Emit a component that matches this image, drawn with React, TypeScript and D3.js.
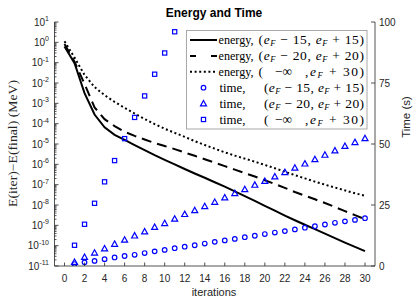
import React from 'react';
import * as d3 from 'd3';

// ---------- data ----------
const energyIterations = [0, 1, 2, 3, 4, 5, 6, 7, 8, 9, 10, 11, 12, 13, 14, 15, 16, 17, 18, 19, 20, 21, 22, 23, 24, 25, 26, 27, 28, 29, 30];
// log10 of E(iter)-E(final) (MeV)
const energy15Log = [-0.21, -1.03, -2.5, -3.55, -4.18, -4.55, -4.8, -5.05, -5.3, -5.55, -5.78, -6.0, -6.23, -6.45, -6.66, -6.88, -7.1, -7.33, -7.56, -7.8, -8.04, -8.28, -8.52, -8.75, -8.97, -9.19, -9.41, -9.63, -9.85, -10.06, -10.27];
const energy20Log = [-0.08, -0.95, -2.05, -3.2, -3.78, -4.12, -4.4, -4.6, -4.78, -4.95, -5.1, -5.25, -5.42, -5.58, -5.75, -5.92, -6.09, -6.26, -6.43, -6.6, -6.78, -6.97, -7.16, -7.36, -7.54, -7.72, -7.9, -8.1, -8.3, -8.5, -8.7];
const energyInfLog = [0.05, -0.75, -1.6, -2.2, -2.6, -2.93, -3.22, -3.5, -3.77, -4.02, -4.25, -4.45, -4.65, -4.86, -5.05, -5.23, -5.41, -5.57, -5.72, -5.87, -6.03, -6.19, -6.36, -6.53, -6.69, -6.85, -7.0, -7.14, -7.28, -7.42, -7.55];

const timeIterations = [1, 2, 3, 4, 5, 6, 7, 8, 9, 10, 11, 12, 13, 14, 15, 16, 17, 18, 19, 20, 21, 22, 23, 24, 25, 26, 27, 28, 29, 30];
const time15 = [0.8, 1.5, 2.1, 2.8, 3.5, 4.1, 4.6, 5.3, 6.0, 6.6, 7.3, 7.9, 8.5, 9.2, 9.9, 10.5, 11.1, 11.8, 12.4, 13.1, 13.7, 14.3, 15.0, 15.7, 16.3, 17.0, 17.7, 18.3, 18.9, 19.6];
const time20 = [1.6, 3.6, 5.4, 7.1, 9.0, 10.7, 12.4, 14.1, 15.9, 17.5, 19.3, 21.2, 22.8, 24.4, 26.2, 28.0, 29.8, 31.4, 33.2, 34.8, 36.6, 38.4, 40.2, 41.9, 43.7, 45.5, 47.3, 49.1, 50.7, 52.3];
const timeInfIterations = [1, 2, 3, 4, 5, 6, 7, 8, 9, 10, 11];
const timeInf = [8.5, 17.1, 25.7, 34.5, 43.2, 52.2, 60.9, 69.7, 78.6, 87.3, 96.0];

const xTicks = [0, 2, 4, 6, 8, 10, 12, 14, 16, 18, 20, 22, 24, 26, 28, 30];
const leftTickExps = [1, 0, -1, -2, -3, -4, -5, -6, -7, -8, -9, -10, -11];
const rightTicks = [0, 25, 50, 75, 100];

// ---------- layout ----------
const W = 415, H = 299;
const L = 54.5, R = 375, T = 22, B = 266;
const BLUE = '#0000ff';
const AX = '#262626';
const SANS = '"Liberation Sans", Arial, Helvetica, sans-serif';
const SERIF = '"Liberation Serif", "Times New Roman", serif';

const x = d3.scaleLinear().domain([-1, 31]).range([L, R]);
const yL = d3.scaleLog().domain([1e-11, 10]).range([B, T]);
const yR = d3.scaleLinear().domain([0, 100]).range([B, T]);

const lineGen = d3.line<[number, number]>().x(d => x(d[0])).y(d => yL(Math.pow(10, d[1])));

function tri(cx: number, cy: number, s = 3) {
  return `M${cx},${cy - s * 1.05}L${cx + s * 1.0},${cy + s * 0.75}L${cx - s * 1.0},${cy + s * 0.75}Z`;
}

const Circ = ({ cx, cy }: { cx: number; cy: number }) => (
  <circle cx={cx} cy={cy} r={2.3} fill="none" stroke={BLUE} strokeWidth={1.2} />
);
const Tri = ({ cx, cy }: { cx: number; cy: number }) => (
  <path d={tri(cx, cy)} fill="none" stroke={BLUE} strokeWidth={1.2} strokeLinejoin="miter" />
);
const Sq = ({ cx, cy }: { cx: number; cy: number }) => (
  <rect x={cx - 2.1} y={cy - 2.1} width={4.2} height={4.2} fill="none" stroke={BLUE} strokeWidth={1.2} />
);

const EF = ({ sign, n }: { sign: string; n: string }) => (
  <>
    <tspan fontStyle="italic">e</tspan>
    <tspan fontSize="8.5" fontStyle="italic" dy="2">F</tspan>
    <tspan dy="-2">{` ${sign} ${n}`}</tspan>
  </>
);

export default function App() {
  const minorTicks: number[] = [];
  for (let e = -11; e < 1; e++) {
    for (let m = 2; m <= 9; m++) minorTicks.push(m * Math.pow(10, e));
  }
  const pairs = (xs: number[], ys: number[]) => xs.map((v, i) => [v, ys[i]] as [number, number]);

  const legendRows = [40, 55.9, 71.8, 87.7, 103.6, 119.5];
  const lx0 = 190, lx1 = 217, lmx = 203.5;
  const textEnd = 364;
  const eStart = 258.5, tStart = 264;

  return (
    <svg width={W} height={H} style={{ position: 'absolute', left: 0, top: 0, background: '#fff' }} fontFamily={SANS}>
      <rect x={0} y={0} width={W} height={H} fill="#fff" />
      <defs>
        <clipPath id="plot">
          <rect x={L} y={T} width={R - L} height={B - T} />
        </clipPath>
      </defs>

      {/* energy lines */}
      <g clipPath="url(#plot)" fill="none" stroke="#000" strokeWidth={2}>
        <path d={lineGen(pairs(energyIterations, energy15Log)) || ''} />
        <path d={lineGen(pairs(energyIterations, energy20Log)) || ''} strokeDasharray="10,6" />
        <path d={lineGen(pairs(energyIterations, energyInfLog)) || ''} strokeDasharray="2,2.6" />
      </g>

      {/* time markers */}
      <g clipPath="url(#plot)">
        {timeIterations.map((it, i) => <Circ key={'c' + i} cx={x(it)} cy={yR(time15[i])} />)}
        {timeIterations.map((it, i) => <Tri key={'t' + i} cx={x(it)} cy={yR(time20[i])} />)}
        {timeInfIterations.map((it, i) => <Sq key={'s' + i} cx={x(it)} cy={yR(timeInf[i])} />)}
      </g>

      {/* axes */}
      <g stroke={AX} strokeWidth={0.8} fill="none">
        <line x1={L} y1={T} x2={L} y2={B} />
        <line x1={R} y1={T} x2={R} y2={B} />
        <line x1={L} y1={B} x2={R} y2={B} />
        {leftTickExps.map(e => (
          <line key={'lt' + e} x1={L} x2={L + 4} y1={yL(Math.pow(10, e))} y2={yL(Math.pow(10, e))} />
        ))}
        {minorTicks.map((v, i) => (
          <line key={'mt' + i} x1={L} x2={L + 2} y1={yL(v)} y2={yL(v)} />
        ))}
        {rightTicks.map(v => (
          <line key={'rt' + v} x1={R} x2={R - 4} y1={yR(v)} y2={yR(v)} />
        ))}
        {xTicks.map(v => (
          <line key={'xt' + v} x1={x(v)} x2={x(v)} y1={B} y2={B - 3.5} />
        ))}
      </g>

      {/* tick labels */}
      <g fontSize={10} fill="#262626">
        {leftTickExps.map(e => (
          <text key={'ll' + e} x={49} y={yL(Math.pow(10, e)) + 3.6} textAnchor="end">
            <tspan>10</tspan>
            <tspan fontSize={7} dy={-4.5}>{e < 0 ? '-' + Math.abs(e) : String(e)}</tspan>
          </text>
        ))}
        {rightTicks.map(v => (
          <text key={'rl' + v} x={379} y={yR(v) + 3.6}>{v}</text>
        ))}
        {xTicks.map(v => (
          <text key={'xl' + v} x={x(v)} y={281.5} textAnchor="middle">{v}</text>
        ))}
      </g>

      {/* axis labels & title */}
      <text x={214} y={296} textAnchor="middle" fontSize={11} fill="#262626">iterations</text>
      <text transform={`translate(410,117) rotate(-90)`} textAnchor="middle" fontSize={11.5} fill="#262626">Time (s)</text>
      <text transform={`translate(17,143.5) rotate(-90)`} textAnchor="middle" fontSize={12} fontFamily={SERIF} fill="#262626" textLength={127} lengthAdjust="spacingAndGlyphs">E(iter)−E(final) (MeV)</text>
      <text x={214} y={16.5} textAnchor="middle" fontSize={12} fontWeight="bold" fill="#000">Energy and Time</text>

      {/* legend */}
      <g>
        <rect x={186.5} y={30.5} width={180.5} height={98.5} fill="#fff" stroke="#a0a0a0" strokeWidth={0.9} />
        <g fill="none" stroke="#000" strokeWidth={2}>
          <line x1={lx0} x2={lx1} y1={legendRows[0]} y2={legendRows[0]} />
          <line x1={lx0} x2={lx1} y1={legendRows[1]} y2={legendRows[1]} strokeDasharray="6,15" />
          <line x1={lx0} x2={lx1} y1={legendRows[2]} y2={legendRows[2]} strokeDasharray="2,2.6" />
        </g>
        <Circ cx={lmx} cy={legendRows[3]} />
        <Tri cx={lmx} cy={legendRows[4]} />
        <Sq cx={lmx} cy={legendRows[5]} />
        <g fontFamily={SERIF} fontSize={13.5} fill="#000">
          {[0, 1, 2].map(i => (
            <text key={'le' + i} x={218.5} y={legendRows[i] + 4} textLength={35} lengthAdjust="spacingAndGlyphs">energy,</text>
          ))}
          {[3, 4, 5].map(i => (
            <text key={'lt' + i} x={219.5} y={legendRows[i] + 4} textLength={26} lengthAdjust="spacingAndGlyphs">time,</text>
          ))}
          <text x={eStart} y={legendRows[0] + 4} textLength={textEnd - eStart} lengthAdjust="spacing">(<EF sign="−" n="15," /> <EF sign="+" n="15)" /></text>
          <text x={eStart} y={legendRows[1] + 4} textLength={textEnd - eStart} lengthAdjust="spacing">(<EF sign="−" n="20," /> <EF sign="+" n="20)" /></text>
          <text x={tStart} y={legendRows[3] + 4} textLength={textEnd - tStart} lengthAdjust="spacing">(<EF sign="−" n="15," /> <EF sign="+" n="15)" /></text>
          <text x={tStart} y={legendRows[4] + 4} textLength={textEnd - tStart} lengthAdjust="spacing">(<EF sign="−" n="20," /> <EF sign="+" n="20)" /></text>
          {[2, 5].map(i => (
            <g key={'inf' + i}>
              <text x={i === 2 ? eStart : tStart} y={legendRows[i] + 4}>(</text>
              <text x={275} y={legendRows[i] + 4}>−∞</text>
              <text x={305} y={legendRows[i] + 4} textLength={textEnd - 305} lengthAdjust="spacing">,<EF sign="+" n="30)" /></text>
            </g>
          ))}
        </g>
      </g>
    </svg>
  );
}
